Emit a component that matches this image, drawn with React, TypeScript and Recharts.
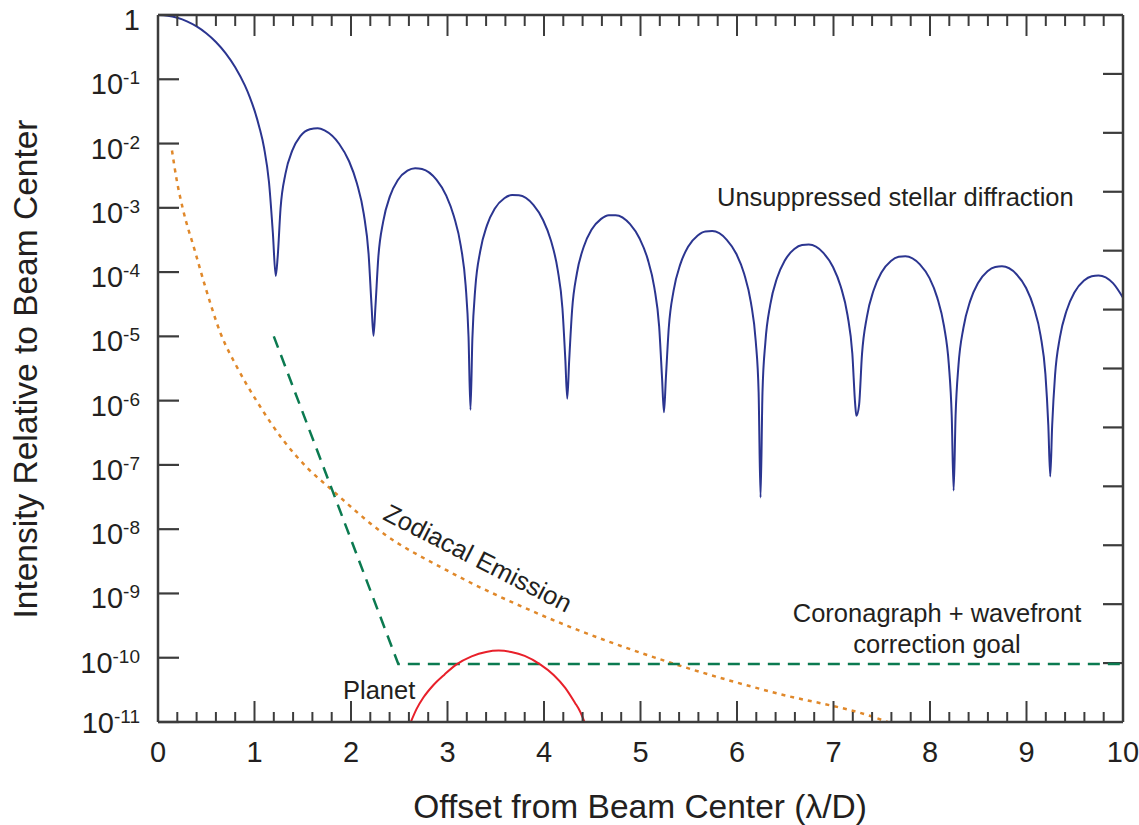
import React from 'react';
import { LineChart, Line, XAxis, YAxis, Customized } from 'recharts';

const FONT = '"Liberation Sans", Arial, Helvetica, sans-serif';
const AXIS = '#3c3c3c';
const INK = '#231f20';

const W = 1139;
const H = 825;
const PLOT_LEFT = 158;
const PLOT_TOP = 15;
const PLOT_RIGHT = 1123;
const PLOT_BOTTOM = 722;

// offset in lambda/D, intensity relative to beam center
const stellarX = [
  0, 0.1, 0.2, 0.3, 0.4, 0.5, 0.6, 0.7, 0.8, 0.9, 0.95, 1.0, 1.05, 1.1, 1.15, 1.19, 1.22,
  1.24, 1.27, 1.321, 1.392, 1.473, 1.574, 1.655, 1.726, 1.878, 1.98, 2.061, 2.132, 2.182, 2.213, 2.233,
  2.253, 2.283, 2.334, 2.404, 2.484, 2.585, 2.665, 2.736, 2.887, 2.987, 3.067, 3.138, 3.188, 3.218, 3.238,
  3.258, 3.288, 3.339, 3.409, 3.489, 3.589, 3.67, 3.74, 3.89, 3.99, 4.071, 4.141, 4.191, 4.221, 4.241,
  4.261, 4.291, 4.341, 4.411, 4.492, 4.592, 4.672, 4.742, 4.892, 4.992, 5.073, 5.143, 5.193, 5.223, 5.243,
  5.263, 5.293, 5.343, 5.413, 5.493, 5.593, 5.673, 5.743, 5.894, 5.994, 6.074, 6.144, 6.194, 6.224, 6.244,
  6.264, 6.294, 6.344, 6.414, 6.494, 6.594, 6.674, 6.744, 6.895, 6.995, 7.075, 7.145, 7.195, 7.225, 7.237,
  7.265, 7.295, 7.345, 7.415, 7.495, 7.595, 7.675, 7.745, 7.895, 7.995, 8.075, 8.145, 8.195, 8.225, 8.245,
  8.265, 8.295, 8.346, 8.416, 8.496, 8.596, 8.676, 8.746, 8.896, 8.996, 9.076, 9.146, 9.196, 9.226, 9.246,
  9.266, 9.296, 9.346, 9.416, 9.496, 9.596, 9.676, 9.746, 9.896, 10,
];
const stellarY = [
  1, 0.976, 0.905, 0.798, 0.665, 0.521, 0.381, 0.256, 0.154, 0.0803, 0.0534, 0.0328, 0.018, 0.00845, 0.00252, 4.13e-4, 8.7e-5,
  1.71e-4, 9.84e-4, 3.4e-3, 7.82e-3, 1.29e-2, 1.67e-2, 1.73e-2, 1.6e-2, 9.84e-3, 5.3e-3, 2.41e-3, 8.09e-4, 1.94e-4, 3.01e-5, 1.02e-5,
  2.86e-5, 1.69e-4, 6.17e-4, 1.52e-3, 2.69e-3, 3.78e-3, 4.13e-3, 4.01e-3, 2.71e-3, 1.55e-3, 7.31e-4, 2.54e-4, 6.22e-5, 9.8e-6, 7.2e-7,
  9.44e-6, 5.66e-5, 2.11e-4, 5.33e-4, 9.68e-4, 1.41e-3, 1.58e-3, 1.57e-3, 1.11e-3, 6.47e-4, 3.13e-4, 1.1e-4, 2.74e-5, 4.35e-6, 1.07e-6,
  4.23e-6, 2.55e-5, 9.59e-5, 2.46e-4, 4.54e-4, 6.73e-4, 7.67e-4, 7.69e-4, 5.57e-4, 3.3e-4, 1.62e-4, 5.77e-5, 1.44e-5, 2.3e-6, 6.6e-7,
  2.24e-6, 1.36e-5, 5.14e-5, 1.33e-4, 2.48e-4, 3.72e-4, 4.29e-4, 4.34e-4, 3.18e-4, 1.91e-4, 9.42e-5, 3.38e-5, 8.47e-6, 1.36e-6, 3.1e-8,
  1.33e-6, 8.07e-6, 3.07e-5, 8.0e-5, 1.5e-4, 2.28e-4, 2.63e-4, 2.68e-4, 1.99e-4, 1.2e-4, 5.96e-5, 2.15e-5, 5.41e-6, 8.67e-7, 5.8e-7,
  8.53e-7, 5.19e-6, 1.98e-5, 5.18e-5, 9.77e-5, 1.49e-4, 1.73e-4, 1.77e-4, 1.32e-4, 8.05e-5, 4.01e-5, 1.45e-5, 3.66e-6, 5.87e-7, 4.0e-8,
  5.78e-7, 3.53e-6, 1.35e-5, 3.54e-5, 6.71e-5, 1.03e-4, 1.2e-4, 1.23e-4, 9.27e-5, 5.65e-5, 2.82e-5, 1.03e-5, 2.59e-6, 4.16e-7, 6.6e-8,
  4.11e-7, 2.51e-6, 9.62e-6, 2.53e-5, 4.81e-5, 7.38e-5, 8.63e-5, 8.87e-5, 6.73e-5, 3.99e-5,
];

const zodiX = [0.145, 0.194, 0.26, 0.38, 0.49, 0.65, 0.815, 1.02, 1.3, 1.55, 1.8, 2.33, 2.99, 3.96, 5.375, 6.37, 7.41, 7.56];
const zodiY = [7.8e-3, 2.7e-3, 9.3e-4, 2.2e-4, 5.9e-5, 1.1e-5, 3.4e-6, 1.0e-6, 2.4e-7, 8.9e-8, 4.1e-8, 8.7e-9, 2.3e-9, 4.7e-10, 7.8e-11, 2.9e-11, 1.2e-11, 1.0e-11];

const goalX = [1.2, 2.49, 10];
const goalY = [1e-5, 8e-11, 8e-11];

const planetX = [2.62, 2.68, 2.75, 2.85, 2.97, 3.09, 3.25, 3.4, 3.53, 3.66, 3.8, 3.96, 4.1, 4.22, 4.32, 4.37, 4.42];
const planetY = [1.0e-11, 1.6e-11, 2.4e-11, 3.7e-11, 5.5e-11, 7.8e-11, 1.05e-10, 1.23e-10, 1.29e-10, 1.23e-10, 1.07e-10, 7.9e-11, 5.4e-11, 3.4e-11, 2.0e-11, 1.5e-11, 1.0e-11];

const yTicks = [1, 1e-1, 1e-2, 1e-3, 1e-4, 1e-5, 1e-6, 1e-7, 1e-8, 1e-9, 1e-10, 1e-11];
const xTicks = Array.from({ length: 51 }, (_, i) => i / 5);
// right frame has 12 even divisions, unrelated to the decades
const rightDivisions = 12;

const pts = (xs: number[], ys: number[]) => xs.map((x, i) => ({ x, y: ys[i] }));
const isMajor = (v: number) => Math.abs(v - Math.round(v)) < 1e-6;

// draws the bottom tick, its mirror on the top frame, and the label
const BottomTick = ({ x, y, payload }: any) => {
  const v = payload.value;
  const major = isMajor(v);
  return (
    <g>
      <line x1={x} y1={y} x2={x} y2={y - (major ? 21 : 10)} stroke={AXIS} strokeWidth={2} />
      <line x1={x} y1={PLOT_TOP} x2={x} y2={PLOT_TOP + (major ? 21 : 11)} stroke={AXIS} strokeWidth={2} />
      {major && (
        <text x={x} y={y + 40} textAnchor="middle" fontSize={29} fontFamily={FONT} fill={INK}>
          {Math.round(v)}
        </text>
      )}
    </g>
  );
};

const LeftTick = ({ x, y, payload }: any) => {
  const e = Math.round(Math.log10(payload.value));
  return (
    <g>
      <line x1={x} y1={y} x2={x + 21} y2={y} stroke={AXIS} strokeWidth={2.2} />
      <text x={x - 18} y={y + (e === -11 ? 11 : 15)} textAnchor="end" fontSize={29} fontFamily={FONT} fill={INK}>
        {e === 0 ? '1' : (
          <>
            10<tspan dy={-10} fontSize={19}>{e}</tspan>
          </>
        )}
      </text>
    </g>
  );
};

const RightTicks = () => {
  const step = (PLOT_BOTTOM - PLOT_TOP) / rightDivisions;
  return (
    <g>
      {Array.from({ length: rightDivisions - 1 }, (_, i) => {
        const y = PLOT_TOP + (i + 1) * step;
        return <line key={i} x1={PLOT_RIGHT} y1={y} x2={PLOT_RIGHT - 20} y2={y} stroke={AXIS} strokeWidth={2.2} />;
      })}
    </g>
  );
};

const Annotations = () => (
  <g fontFamily={FONT} fill={INK}>
    <RightTicks />
    <text transform="translate(37,369) rotate(-90)" textAnchor="middle" fontSize={33.5}>
      Intensity Relative to Beam Center
    </text>
    <text x={640} y={818} textAnchor="middle" fontSize={33.5}>
      Offset from Beam Center (λ/D)
    </text>
    <text x={717} y={206} fontSize={25.5}>Unsuppressed stellar diffraction</text>
    <text x={937} y={622} textAnchor="middle" fontSize={25.5}>Coronagraph + wavefront</text>
    <text x={937} y={653} textAnchor="middle" fontSize={25.5}>correction goal</text>
    <text x={343} y={699} fontSize={25.5}>Planet</text>
    <text transform="translate(478,558) rotate(27)" y={9} textAnchor="middle" fontSize={25.5}>
      Zodiacal Emission
    </text>
  </g>
);

export default function App() {
  return (
    <div style={{ position: 'absolute', left: 0, top: 0, width: W, height: H, background: '#fff' }}>
      <LineChart
        width={W}
        height={H}
        margin={{ top: PLOT_TOP - 1, right: W - PLOT_RIGHT - 1, bottom: 0, left: 0 }}
      >
        <XAxis
          xAxisId={0}
          type="number"
          dataKey="x"
          domain={[0, 10]}
          ticks={xTicks}
          interval={0}
          height={H - PLOT_BOTTOM}
          tickSize={0}
          tickMargin={0}
          tick={<BottomTick />}
          axisLine={{ stroke: AXIS, strokeWidth: 2.5 }}
          allowDataOverflow
        />
        <XAxis
          xAxisId="top"
          orientation="top"
          type="number"
          domain={[0, 10]}
          height={1}
          tick={false}
          tickLine={false}
          axisLine={{ stroke: AXIS, strokeWidth: 2.5 }}
        />
        <YAxis
          yAxisId={0}
          type="number"
          scale="log"
          domain={[1e-11, 1]}
          ticks={yTicks}
          interval={0}
          width={PLOT_LEFT}
          tickSize={0}
          tickMargin={0}
          tick={<LeftTick />}
          axisLine={{ stroke: AXIS, strokeWidth: 2.5 }}
          allowDataOverflow
        />
        <YAxis
          yAxisId="right"
          orientation="right"
          type="number"
          domain={[0, 12]}
          width={1}
          tick={false}
          tickLine={false}
          axisLine={{ stroke: AXIS, strokeWidth: 2.5 }}
        />
        <Line
          data={pts(stellarX, stellarY)}
          dataKey="y"
          type="monotone"
          stroke="#2b3590"
          strokeWidth={2}
          dot={false}
          isAnimationActive={false}
        />
        <Line
          data={pts(zodiX, zodiY)}
          dataKey="y"
          type="monotone"
          stroke="#e0882a"
          strokeWidth={2.5}
          strokeDasharray="4 5"
          dot={false}
          isAnimationActive={false}
        />
        <Line
          data={pts(goalX, goalY)}
          dataKey="y"
          type="linear"
          stroke="#0b7a50"
          strokeWidth={2.5}
          strokeDasharray="12 8"
          dot={false}
          isAnimationActive={false}
        />
        <Line
          data={pts(planetX, planetY)}
          dataKey="y"
          type="monotone"
          stroke="#e8202a"
          strokeWidth={2}
          dot={false}
          isAnimationActive={false}
        />
        <Customized component={Annotations} />
      </LineChart>
    </div>
  );
}
